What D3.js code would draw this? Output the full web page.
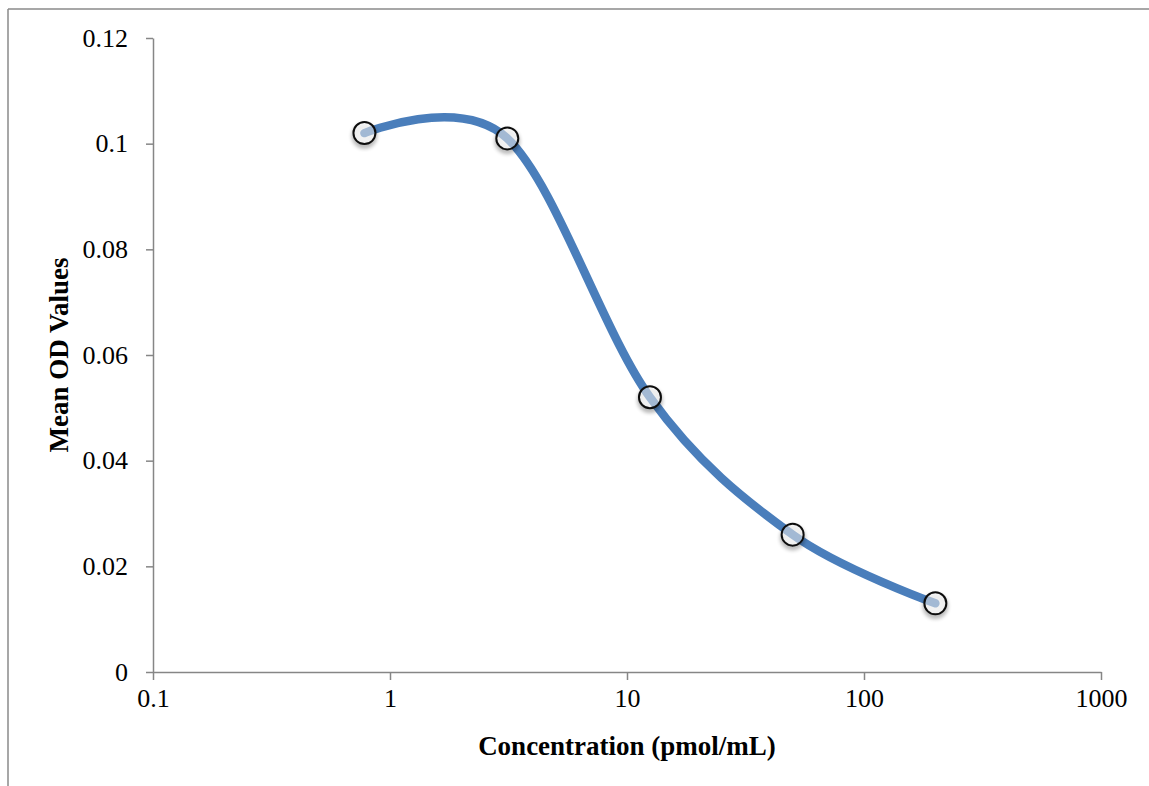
<!DOCTYPE html>
<html>
<head>
<meta charset="utf-8">
<script src="https://cdn.jsdelivr.net/npm/d3@7"></script>
<style>
  html, body { margin: 0; padding: 0; background: #fff; }
  svg { display: block; }
  text { font-family: "Liberation Serif", "DejaVu Serif", serif; fill: #000; }
</style>
</head>
<body>
<svg id="chart" width="1149" height="786"></svg>
<script>
// Standard curve: concentration (pmol/mL) vs mean OD
const concentrations = [0.78, 3.125, 12.5, 50, 200];
const meanOD = [0.102, 0.101, 0.052, 0.026, 0.013];
const xTicks = [0.1, 1, 10, 100, 1000];
const yTicks = [0, 0.02, 0.04, 0.06, 0.08, 0.1, 0.12];
const xTitle = "Concentration (pmol/mL)";
const yTitle = "Mean OD Values";

const svg = d3.select("#chart");
const W = 1149, H = 786;
const plotLeft = 153, plotRight = 1101, plotTop = 38, plotBottom = 672;

// frame lines along top and left edges
svg.append("line").attr("x1", 8).attr("x2", W).attr("y1", 9).attr("y2", 9)
  .attr("stroke", "#8a8a8a").attr("stroke-width", 1.5);
svg.append("line").attr("x1", 8).attr("x2", 8).attr("y1", 9).attr("y2", H)
  .attr("stroke", "#8a8a8a").attr("stroke-width", 1.5);

const x = d3.scaleLog().domain([0.1, 1000]).range([plotLeft, plotRight]);
const y = d3.scaleLinear().domain([0, 0.12]).range([plotBottom, plotTop]);

const defs = svg.append("defs");
const f = defs.append("filter").attr("id", "shadow")
  .attr("x", "-50%").attr("y", "-50%").attr("width", "200%").attr("height", "200%");
f.append("feGaussianBlur").attr("in", "SourceAlpha").attr("stdDeviation", 2.2).attr("result", "b");
f.append("feOffset").attr("in", "b").attr("dx", 0).attr("dy", 3).attr("result", "o");
f.append("feComponentTransfer").attr("in", "o").attr("result", "s")
  .append("feFuncA").attr("type", "linear").attr("slope", 0.45);
const m = f.append("feMerge");
m.append("feMergeNode").attr("in", "s");
m.append("feMergeNode").attr("in", "SourceGraphic");

// axes
const xAxis = d3.axisBottom(x).tickValues(xTicks).tickFormat(d => String(d))
  .tickSizeInner(8).tickSizeOuter(0).tickPadding(9);
const yAxis = d3.axisLeft(y).tickValues(yTicks).tickFormat(d => d === 0 ? "0" : String(+d.toFixed(2)))
  .tickSizeInner(7).tickSizeOuter(0).tickPadding(18);

const gx = svg.append("g").attr("transform", `translate(0,${plotBottom})`).call(xAxis);
const gy = svg.append("g").attr("transform", `translate(${plotLeft},0)`).call(yAxis);
[gx, gy].forEach(g => {
  g.selectAll("path.domain").attr("stroke", "#868686").attr("stroke-width", 1.5);
  g.selectAll(".tick line").attr("stroke", "#868686").attr("stroke-width", 1.5);
  g.selectAll(".tick text").attr("font-family", "Liberation Serif, serif")
    .attr("font-size", 26).attr("fill", "#000");
});

// smoothed data line
const pts = concentrations.map((c, i) => [x(c), y(meanOD[i])]);
svg.append("path")
  .attr("d", d3.line().curve(d3.curveCardinal.tension(0))(pts))
  .attr("fill", "none").attr("stroke", "#4a7ebb").attr("stroke-width", 8.5)
  .attr("stroke-linecap", "round");

// markers
svg.append("g").selectAll("circle").data(pts).join("circle")
  .attr("cx", d => d[0]).attr("cy", d => d[1]).attr("r", 11)
  .attr("fill", "rgba(255,255,255,0.45)").attr("stroke", "#111").attr("stroke-width", 2)
  .attr("filter", "url(#shadow)");

// axis titles
svg.append("text").attr("x", 627).attr("y", 755).attr("text-anchor", "middle")
  .attr("font-size", 27).attr("font-weight", "bold").text(xTitle);
svg.append("text").attr("transform", `translate(68,355) rotate(-90)`)
  .attr("text-anchor", "middle").attr("font-size", 27).attr("font-weight", "bold").text(yTitle);
</script>
</body>
</html>
